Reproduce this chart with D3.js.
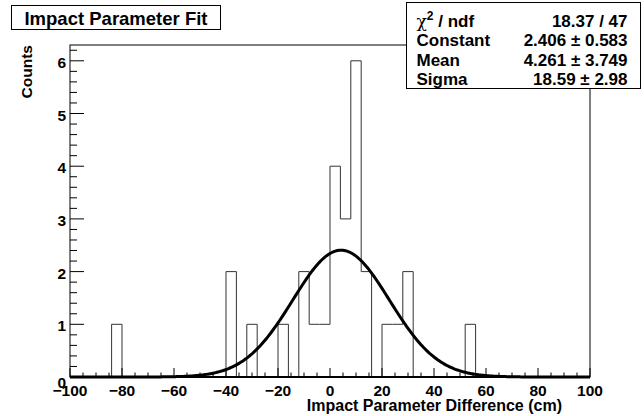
<!DOCTYPE html>
<html>
<head>
<meta charset="utf-8">
<script src="https://cdn.jsdelivr.net/npm/d3@7"></script>
<style>
  body { margin: 0; background: #fff; }
  text { font-family: "Liberation Sans", Arial, sans-serif; font-weight: bold; fill: #000; }
</style>
</head>
<body>
<div id="chart"></div>
<script>
// histogram: 50 bins of width 4 from -100 to 100
var binStart = -100, binWidth = 4
var counts = [0,0,0,0,1,0,0,0,0,0,0,0,0,0,0,2,0,1,0,0,1,0,2,1,1,4,3,6,2,0,1,1,2,0,0,0,0,0,1,0,0,0,0,0,0,0,0,0,0,0]
// gaussian fit
var statNames = ["Constant", "Mean", "Sigma"]
var statValues = ["2.406", "4.261", "18.59"]
var statErrors = ["0.583", "3.749", "2.98"]
var fitPars = [2.406, 4.261, 18.59]
var chi2ndf = "18.37 / 47"
var xTicks = [-100, -80, -60, -40, -20, 0, 20, 40, 60, 80, 100]
var yTicks = [0, 1, 2, 3, 4, 5, 6]

var width = 644, height = 416
var margin = { top: 45, right: 54, bottom: 39, left: 70 }

var svg = d3.select("#chart").append("svg")
    .attr("width", width)
    .attr("height", height)

var x = d3.scaleLinear().domain([-100, 100]).range([margin.left, width - margin.right])
var y = d3.scaleLinear().domain([0, 6.3]).range([height - margin.bottom, margin.top])

// frame
svg.append("rect")
    .attr("x", x(-100)).attr("y", y(6.3))
    .attr("width", x(100) - x(-100)).attr("height", y(0) - y(6.3))
    .attr("fill", "none").attr("stroke", "#000").attr("stroke-width", 1)

// histogram outline
var pts = []
counts.forEach(function(c, i) {
    var x0 = binStart + i * binWidth
    pts.push([x(x0), y(c)])
    pts.push([x(x0 + binWidth), y(c)])
})
var hist = [[x(-100), y(0)]].concat(pts).concat([[x(100), y(0)]])
svg.append("path")
    .attr("d", d3.line()(hist))
    .attr("fill", "none").attr("stroke", "#333").attr("stroke-width", 1)

// fit curve
var curve = d3.range(-100, 100.01, 0.5).map(function(v) {
    var g = fitPars[0] * Math.exp(-0.5 * Math.pow((v - fitPars[1]) / fitPars[2], 2))
    return [x(v), y(g)]
})
svg.append("path")
    .attr("d", d3.line()(curve))
    .attr("fill", "none").attr("stroke", "#000").attr("stroke-width", 3)

// x axis
var xMinor = d3.range(-100, 100.01, 5)
svg.append("g").selectAll("line").data(xMinor).enter().append("line")
    .attr("x1", function(d) { return x(d) }).attr("x2", function(d) { return x(d) })
    .attr("y1", y(0))
    .attr("y2", function(d) { return y(0) - (d % 20 == 0 ? 9 : 4.5) })
    .attr("stroke", "#000")
svg.append("line")
    .attr("x1", x(-100)).attr("x2", x(100)).attr("y1", y(0)).attr("y2", y(0))
    .attr("stroke", "#000").attr("stroke-width", 2)
svg.append("g").selectAll("text").data(xTicks).enter().append("text")
    .attr("x", function(d) { return x(d) })
    .attr("y", 396)
    .attr("text-anchor", "middle")
    .style("font-size", "15.5px")
    .text(function(d) { return d < 0 ? "\u2212" + Math.abs(d) : d })

// y axis
var yMinor = d3.range(0, 6.21, 0.2)
svg.append("g").selectAll("line").data(yMinor).enter().append("line")
    .attr("x1", x(-100))
    .attr("x2", function(d) { return x(-100) + (Math.abs(d - Math.round(d)) < 0.01 ? 14 : 7) })
    .attr("y1", function(d) { return y(d) }).attr("y2", function(d) { return y(d) })
    .attr("stroke", "#000")
svg.append("g").selectAll("text").data(yTicks).enter().append("text")
    .attr("x", x(-100) - 4)
    .attr("y", function(d) { return d == 0 ? 388 : y(d) + 7 })
    .attr("text-anchor", "end")
    .style("font-size", "15.5px")
    .text(function(d) { return d })

// axis titles
svg.append("text")
    .attr("x", 562).attr("y", 411)
    .attr("text-anchor", "end")
    .style("font-size", "16px")
    .text("Impact Parameter Difference (cm)")
svg.append("text")
    .attr("transform", "translate(32," + margin.top + ") rotate(-90)")
    .attr("text-anchor", "end")
    .style("font-size", "15.5px")
    .text("Counts")

// title box
svg.append("rect")
    .attr("x", 11.5).attr("y", 5.5).attr("width", 209).attr("height", 24)
    .attr("fill", "#fff").attr("stroke", "#000")
svg.append("text")
    .attr("x", 116).attr("y", 25)
    .attr("text-anchor", "middle")
    .style("font-size", "18.5px")
    .text("Impact Parameter Fit")

// stats box
var sb = { x: 406.5, y: 2.5, w: 234, h: 86 }
svg.append("rect")
    .attr("x", sb.x).attr("y", sb.y).attr("width", sb.w).attr("height", sb.h)
    .attr("fill", "#fff").attr("stroke", "#000")
var rowY = [26.5, 46, 65.5, 85]
var chiLabel = svg.append("text").attr("x", sb.x + 10).attr("y", rowY[0]).style("font-size", "17px")
chiLabel.append("tspan").style("font-weight", "normal").style("font-family", "'DejaVu Serif', serif").text("\u03c7")
chiLabel.append("tspan").attr("dy", -7).style("font-size", "12px").text("2")
chiLabel.append("tspan").attr("dy", 7).text(" / ndf")
svg.append("text").attr("x", sb.x + sb.w - 13).attr("y", rowY[0])
    .attr("text-anchor", "end").style("font-size", "17px").text(chi2ndf)
statNames.forEach(function(n, i) {
    svg.append("text").attr("x", sb.x + 10).attr("y", rowY[i + 1])
        .style("font-size", "17px").text(n)
    svg.append("text").attr("x", sb.x + sb.w - 13).attr("y", rowY[i + 1])
        .attr("text-anchor", "end").style("font-size", "17px")
        .text(statValues[i] + " \u00b1 " + statErrors[i])
})
</script>
</body>
</html>
